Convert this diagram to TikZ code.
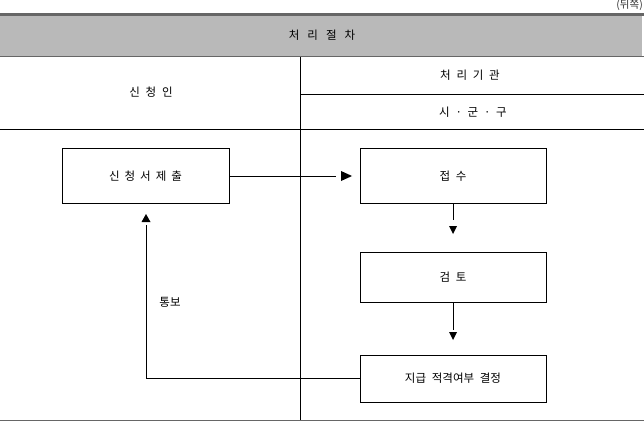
\documentclass[tikz,border=0pt]{standalone}
\usepackage{fontspec}
\setmainfont{Noto Sans CJK KR}
\newcommand{\ksp}{\kern5pt}
\newcommand{\lblfont}{\fontsize{11.5}{13}\selectfont\spaceskip=5.75pt\relax}
\newcommand{\ttlfont}{\fontsize{11.5}{13}\selectfont\spaceskip=8pt\relax}
\begin{document}
\begin{tikzpicture}[x=1pt,y=-1pt,
  box/.style={draw, line width=1pt, minimum width=186pt, minimum height=52pt, inner sep=0pt, font=\lblfont},
  lbl/.style={inner sep=0pt, font=\lblfont},
  rule/.style={line width=1pt},
  conn/.style={line width=1pt},
  tipfill/.style={fill=black}]
\useasboundingbox (0,0) rectangle (644,422);
% header
\fill[gray!55!white] (0,16) rectangle (642,56);
\draw[line width=3pt, black!60] (0,14.5) -- (644,14.5);
\draw[line width=1pt, black!60] (0,56.5) -- (644,56.5);
\node[inner sep=0pt, anchor=east, font=\fontsize{10.5}{11}\selectfont, text=black!80] (note) at (643,5) {(뒤쪽)};
\node[lbl, font=\ttlfont] (title) at (322,35) {처 리 절 차};
% table lines
\draw[rule] (300,57) -- (300,421);
\draw[rule] (300,94.5) -- (644,94.5);
\draw[rule] (0,129.5) -- (644,129.5);
\draw[line width=1pt, black!60] (0,420.5) -- (644,420.5);
\node[lbl] (applicant) at (151,92) {신 청 인};
\node[lbl] (agency) at (470,75) {처 리 기 관};
\node[lbl] (city) at (473,112) {시 · 군 · 구};
% boxes
\node[box, minimum width=167pt, minimum height=54pt] (submit) at (145.5,176) {신\ksp 청\ksp 서\ksp 제\ksp 출};
\node[box, minimum height=54pt] (receive) at (453,176) {접 수};
\node[box, minimum height=50pt] (review) at (453,277) {검 토};
\node[box, minimum height=47pt] (decide) at (453,378.5) {지급 적격여부 결정};
% connectors
\coordinate (a1) at (336,176);
\draw[conn] (submit.east) -- (a1);
\fill[tipfill] (341,171) -- (352,176) -- (341,181) -- cycle;
\coordinate (a2) at (453,220);
\draw[conn] (receive.south) -- (a2);
\fill[tipfill] (449,226) -- (457,226) -- (453,234) -- cycle;
\coordinate (a3) at (453,330);
\draw[conn] (review.south) -- (a3);
\fill[tipfill] (449,332) -- (457,332) -- (453,340) -- cycle;
\coordinate (up) at (146,225);
\draw[conn] (decide.west) -- (146,378.5) -- (up);
\fill[tipfill] (141.5,222) -- (150.5,222) -- (146,214) -- cycle;
\node[lbl] (notify) at (170,302) {통보};
\end{tikzpicture}
\end{document}
